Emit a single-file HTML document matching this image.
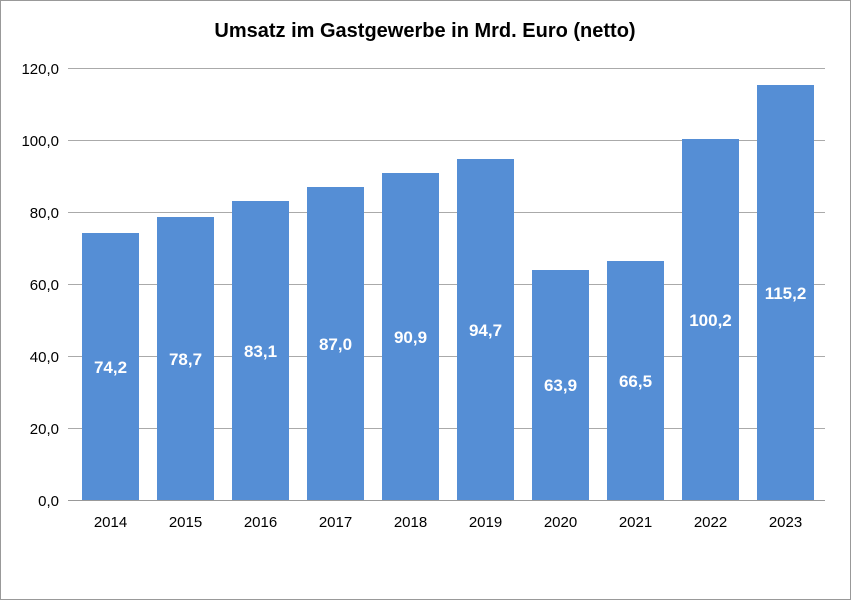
<!DOCTYPE html><html><head><style>body{margin:0;background:#fff}svg{display:block}text{font-family:"Liberation Sans",Arial,sans-serif}</style></head><body>
<svg width="851" height="600" viewBox="0 0 851 600">
<rect x="0.5" y="0.5" width="850" height="599" fill="#fff" stroke="#999"/>
<text x="425" y="37" text-anchor="middle" font-size="20" font-weight="bold" fill="#000">Umsatz im Gastgewerbe in Mrd. Euro (netto)</text>
<g stroke="#aaa" stroke-width="1">
<line x1="68" y1="68.5" x2="825" y2="68.5"/><line x1="68" y1="140.5" x2="825" y2="140.5"/><line x1="68" y1="212.5" x2="825" y2="212.5"/><line x1="68" y1="284.5" x2="825" y2="284.5"/><line x1="68" y1="356.5" x2="825" y2="356.5"/><line x1="68" y1="428.5" x2="825" y2="428.5"/>
</g>
<g font-size="15" fill="#000" text-anchor="end">
<text x="59" y="74">120,0</text><text x="59" y="146">100,0</text><text x="59" y="218">80,0</text><text x="59" y="290">60,0</text><text x="59" y="362">40,0</text><text x="59" y="434">20,0</text><text x="59" y="506">0,0</text>
</g>
<g fill="#558ed5">
<rect x="82" y="233" width="57" height="268"/><rect x="157" y="217" width="57" height="284"/><rect x="232" y="201" width="57" height="300"/><rect x="307" y="187" width="57" height="314"/><rect x="382" y="173" width="57" height="328"/><rect x="457" y="159" width="57" height="342"/><rect x="532" y="270" width="57" height="231"/><rect x="607" y="261" width="57" height="240"/><rect x="682" y="139" width="57" height="362"/><rect x="757" y="85" width="57" height="416"/>
</g>
<line x1="68" y1="500.5" x2="825" y2="500.5" stroke="#999"/>
<g font-size="17" font-weight="bold" fill="#fff" text-anchor="middle">
<text x="110.5" y="373">74,2</text><text x="185.5" y="365">78,7</text><text x="260.5" y="357">83,1</text><text x="335.5" y="350">87,0</text><text x="410.5" y="343">90,9</text><text x="485.5" y="336">94,7</text><text x="560.5" y="391">63,9</text><text x="635.5" y="387">66,5</text><text x="710.5" y="326">100,2</text><text x="785.5" y="299">115,2</text>
</g>
<g font-size="15" fill="#000" text-anchor="middle">
<text x="110.5" y="527">2014</text><text x="185.5" y="527">2015</text><text x="260.5" y="527">2016</text><text x="335.5" y="527">2017</text><text x="410.5" y="527">2018</text><text x="485.5" y="527">2019</text><text x="560.5" y="527">2020</text><text x="635.5" y="527">2021</text><text x="710.5" y="527">2022</text><text x="785.5" y="527">2023</text>
</g>
</svg></body></html>
